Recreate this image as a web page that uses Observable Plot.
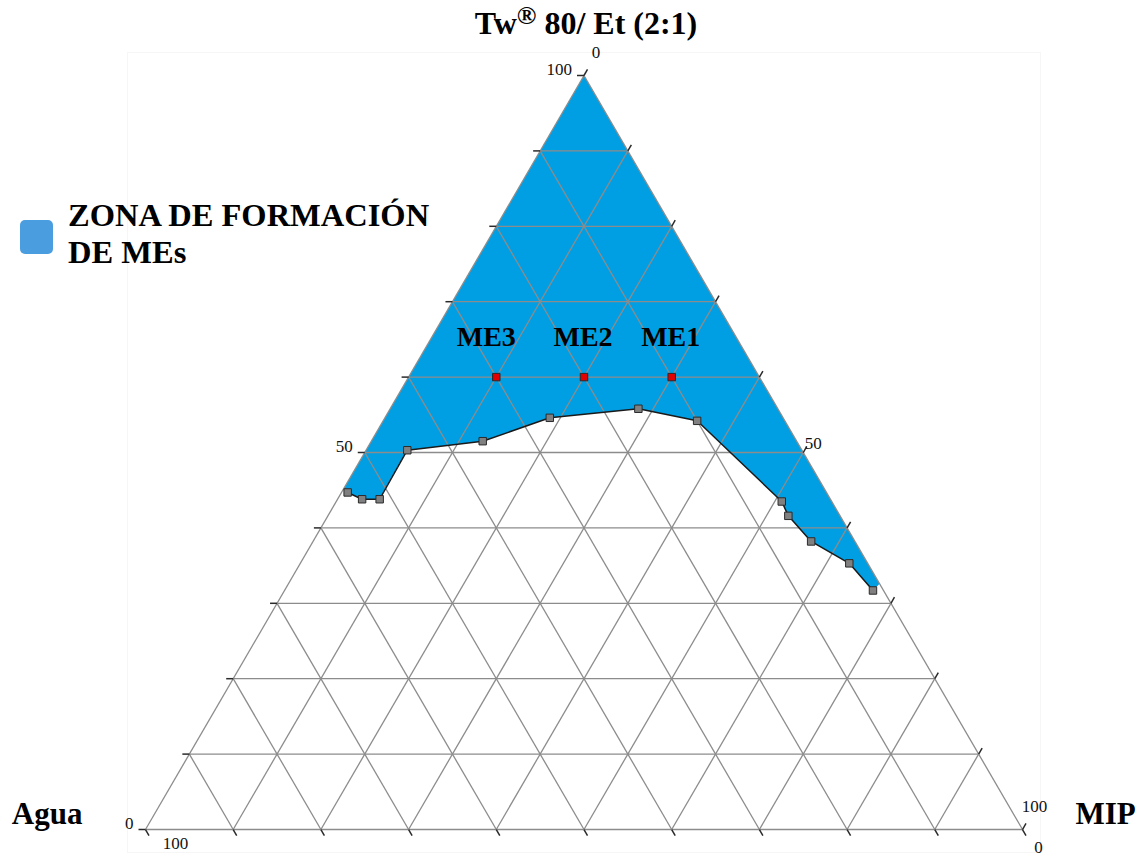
<!DOCTYPE html>
<html>
<head>
<meta charset="utf-8">
<script src="https://cdn.jsdelivr.net/npm/d3@7"></script>
<script src="https://cdn.jsdelivr.net/npm/@observablehq/plot@0.6"></script>
<style>
  body { margin: 0; background: #fff; }
  #wrap { position: relative; width: 1143px; height: 856px; font-family: "Liberation Serif", "Times New Roman", serif; }
  #chart { position: absolute; left: 0; top: 0; }
  #title { position: absolute; left: 586px; top: 7px; transform: translateX(-50%); font-size: 32px; line-height: 32px; font-weight: bold; white-space: nowrap; color: #000; }
  #title sup { font-size: 0.82em; line-height: 0; vertical-align: 0.4em; }
  #legend-swatch { position: absolute; left: 20px; top: 220px; width: 33px; height: 34px; border-radius: 5px; background: #4a9edf; }
  #legend-text { position: absolute; left: 68px; top: 197px; font-size: 32.5px; line-height: 37px; font-weight: bold; color: #000; white-space: nowrap; }
</style>
</head>
<body>
<div id="wrap">
  <div id="chart"></div>
  <div id="title">Tw<sup>®</sup> 80/ Et (2:1)</div>
  <div id="legend-swatch"></div>
  <div id="legend-text">ZONA DE FORMACIÓN<br>DE MEs</div>
</div>
<script>
// Component names at the three vertices
const vertexNames = ["Tw® 80/ Et (2:1)", "Agua", "MIP"];

// Boundary of the microemulsion region (% w/w): surfactant mix, MIP, water
const boundaryTw   = [44.7, 43.8, 43.8, 50.3, 51.5, 54.6, 55.8, 54.2, 43.5, 41.6, 38.2, 35.3, 31.7];
const boundaryMIP  = [0.7, 2.8, 4.8, 4.7, 12.7, 18.8, 28.3, 35.8, 50.8, 52.5, 56.8, 62.6, 67.1];
const boundaryAgua = [54.6, 53.4, 51.4, 45.0, 35.8, 26.6, 15.9, 10.0, 5.7, 5.9, 5.0, 2.1, 1.2];

// Where the region meets the two triangle edges (Tw %)
const zoneLeftEdgeTw = 45.3;   // on the Tw–Agua edge
const zoneRightEdgeTw = 32.6;  // on the Tw–MIP edge

// Selected formulations
const meNames = ["ME1", "ME2", "ME3"];
const meTw    = [60, 60, 60];
const meMIP   = [30, 20, 10];
const meAgua  = [10, 20, 30];

// Grid levels and axis labels
const gridLevels = [0, 10, 20, 30, 40, 50, 60, 70, 80, 90];
const tickLevels = [0, 10, 20, 30, 40, 50, 60, 70, 80, 90, 100];
const twLabels   = [100, 50, 0];
const mipLabels  = [0, 50, 100];
const aguaLabels = [100, 0];

// Screen layout of the triangle
const X0 = 145, X1 = 1022, Y0 = 829, Y1 = 75;
const pxX = 1 / (X1 - X0), pxY = 1 / (Y0 - Y1);
const tickLen = 7;

// Ternary → cartesian (x from 0 at Agua vertex to 1 at MIP vertex, y = Tw fraction)
const pos = (tw, mip) => ({x: (mip + tw / 2) / 100, y: tw / 100});

const boundary = boundaryTw.map((tw, i) => ({
  ...pos(tw, boundaryMIP[i]), tw, mip: boundaryMIP[i], agua: boundaryAgua[i]
}));

const zone = [
  pos(100, 0),
  pos(zoneLeftEdgeTw, 0),
  ...boundary,
  pos(zoneRightEdgeTw, 100 - zoneRightEdgeTw),
  pos(100, 0)
];

const formulations = meNames.map((name, i) => ({name, ...pos(meTw[i], meMIP[i]), agua: meAgua[i]}));

// Iso-lines for each component
const grid = [];
for (const p of gridLevels) {
  const a = pos(p, 0), b = pos(p, 100 - p);          // constant Tw
  grid.push({x1: a.x, y1: a.y, x2: b.x, y2: b.y});
  const c = pos(0, p), d = pos(100 - p, p);          // constant MIP
  grid.push({x1: c.x, y1: c.y, x2: d.x, y2: d.y});
  const e = pos(0, 100 - p), f = pos(100 - p, 0);    // constant Agua
  grid.push({x1: e.x, y1: e.y, x2: f.x, y2: f.y});
}

// Short outward ticks on each edge
const ticks = [];
const s = Math.sqrt(3) / 2;
for (const p of tickLevels) {
  const l = pos(p, 0);
  ticks.push({x1: l.x, y1: l.y, x2: l.x - tickLen * pxX, y2: l.y});
  const r = pos(100 - p, p);
  ticks.push({x1: r.x, y1: r.y, x2: r.x + 0.5 * tickLen * pxX, y2: r.y + s * tickLen * pxY});
  const b = pos(0, 100 - p);
  ticks.push({x1: b.x, y1: b.y, x2: b.x + 0.5 * tickLen * pxX, y2: b.y - s * tickLen * pxY});
}

const twLabelData = twLabels.map(v => ({v, ...pos(v, 0)}));
const mipLabelData = mipLabels.map(v => ({v, ...pos(100 - v, v)}));
const aguaLabelData = aguaLabels.map(v => ({v, ...pos(0, 100 - v)}));
const cornerAgua = [{name: vertexNames[1], ...pos(0, 0)}];
const cornerMIP = [{name: vertexNames[2], ...pos(0, 100)}];

const font = "'Liberation Serif', 'Times New Roman', serif";
const labelSize = 17;

const chart = Plot.plot({
  width: 1143,
  height: 856,
  marginLeft: 127, marginTop: 52, marginRight: 103, marginBottom: 4,
  x: {domain: [0, 1], range: [X0, X1], axis: null},
  y: {domain: [0, 1], range: [Y0, Y1], axis: null},
  style: {background: "#fff", fontFamily: font, color: "#000"},
  marks: [
    Plot.frame({stroke: "#f6f6f6"}),
    Plot.line(zone, {x: "x", y: "y", fill: "#009fe3", stroke: "none", curve: "linear"}),
    Plot.link(grid, {x1: "x1", y1: "y1", x2: "x2", y2: "y2", stroke: "#8c8c8c", strokeWidth: 1.3}),
    Plot.link(ticks, {x1: "x1", y1: "y1", x2: "x2", y2: "y2", stroke: "#2a2a2a", strokeWidth: 1.5}),
    Plot.line(boundary, {x: "x", y: "y", stroke: "#1a1a1a", strokeWidth: 1.5}),
    Plot.dot(boundary, {x: "x", y: "y", symbol: "square", r: 4.2, fill: "#808080", stroke: "#2a2a2a", strokeWidth: 1}),
    Plot.dot(formulations, {x: "x", y: "y", symbol: "square", r: 4.2, fill: "#e30000", stroke: "#2a2a2a", strokeWidth: 1}),
    Plot.text(formulations.filter(d => d.name !== "ME3"), {x: "x", y: "y", text: "name", dx: -1, dy: -40, fontSize: 28, fontWeight: "bold", fill: "#000"}),
    Plot.text(formulations.filter(d => d.name === "ME3"), {x: "x", y: "y", text: "name", dx: -10, dy: -40, fontSize: 28, fontWeight: "bold", fill: "#000"}),
    // Tw scale on the left edge
    Plot.text(twLabelData, {x: "x", y: "y", text: d => String(d.v), textAnchor: "end", dx: -12, dy: -6, fontSize: labelSize, fill: "#111"}),
    // MIP scale on the right edge
    Plot.text(mipLabelData.filter(d => d.v !== 50), {x: "x", y: "y", text: d => String(d.v), dx: 12, dy: -23, fontSize: labelSize, fill: "#111"}),
    Plot.text(mipLabelData.filter(d => d.v === 50), {x: "x", y: "y", text: d => String(d.v), dx: 10, dy: -9, fontSize: labelSize, fill: "#111"}),
    // Agua scale along the base
    Plot.text(aguaLabelData.filter(d => d.v === 100), {x: "x", y: "y", text: d => String(d.v), dx: 30, dy: 14, fontSize: labelSize, fill: "#111"}),
    Plot.text(aguaLabelData.filter(d => d.v === 0), {x: "x", y: "y", text: d => String(d.v), dx: 16, dy: 18, fontSize: labelSize, fill: "#111"}),
    // Vertex names
    Plot.text(cornerAgua, {x: "x", y: "y", text: "name", textAnchor: "end", dx: -63, dy: -15, fontSize: 31, fontWeight: "bold", fill: "#000"}),
    Plot.text(cornerMIP, {x: "x", y: "y", text: "name", textAnchor: "start", dx: 53, dy: -15, fontSize: 31, fontWeight: "bold", fill: "#000"})
  ]
});

document.getElementById("chart").appendChild(chart);
</script>
</body>
</html>
